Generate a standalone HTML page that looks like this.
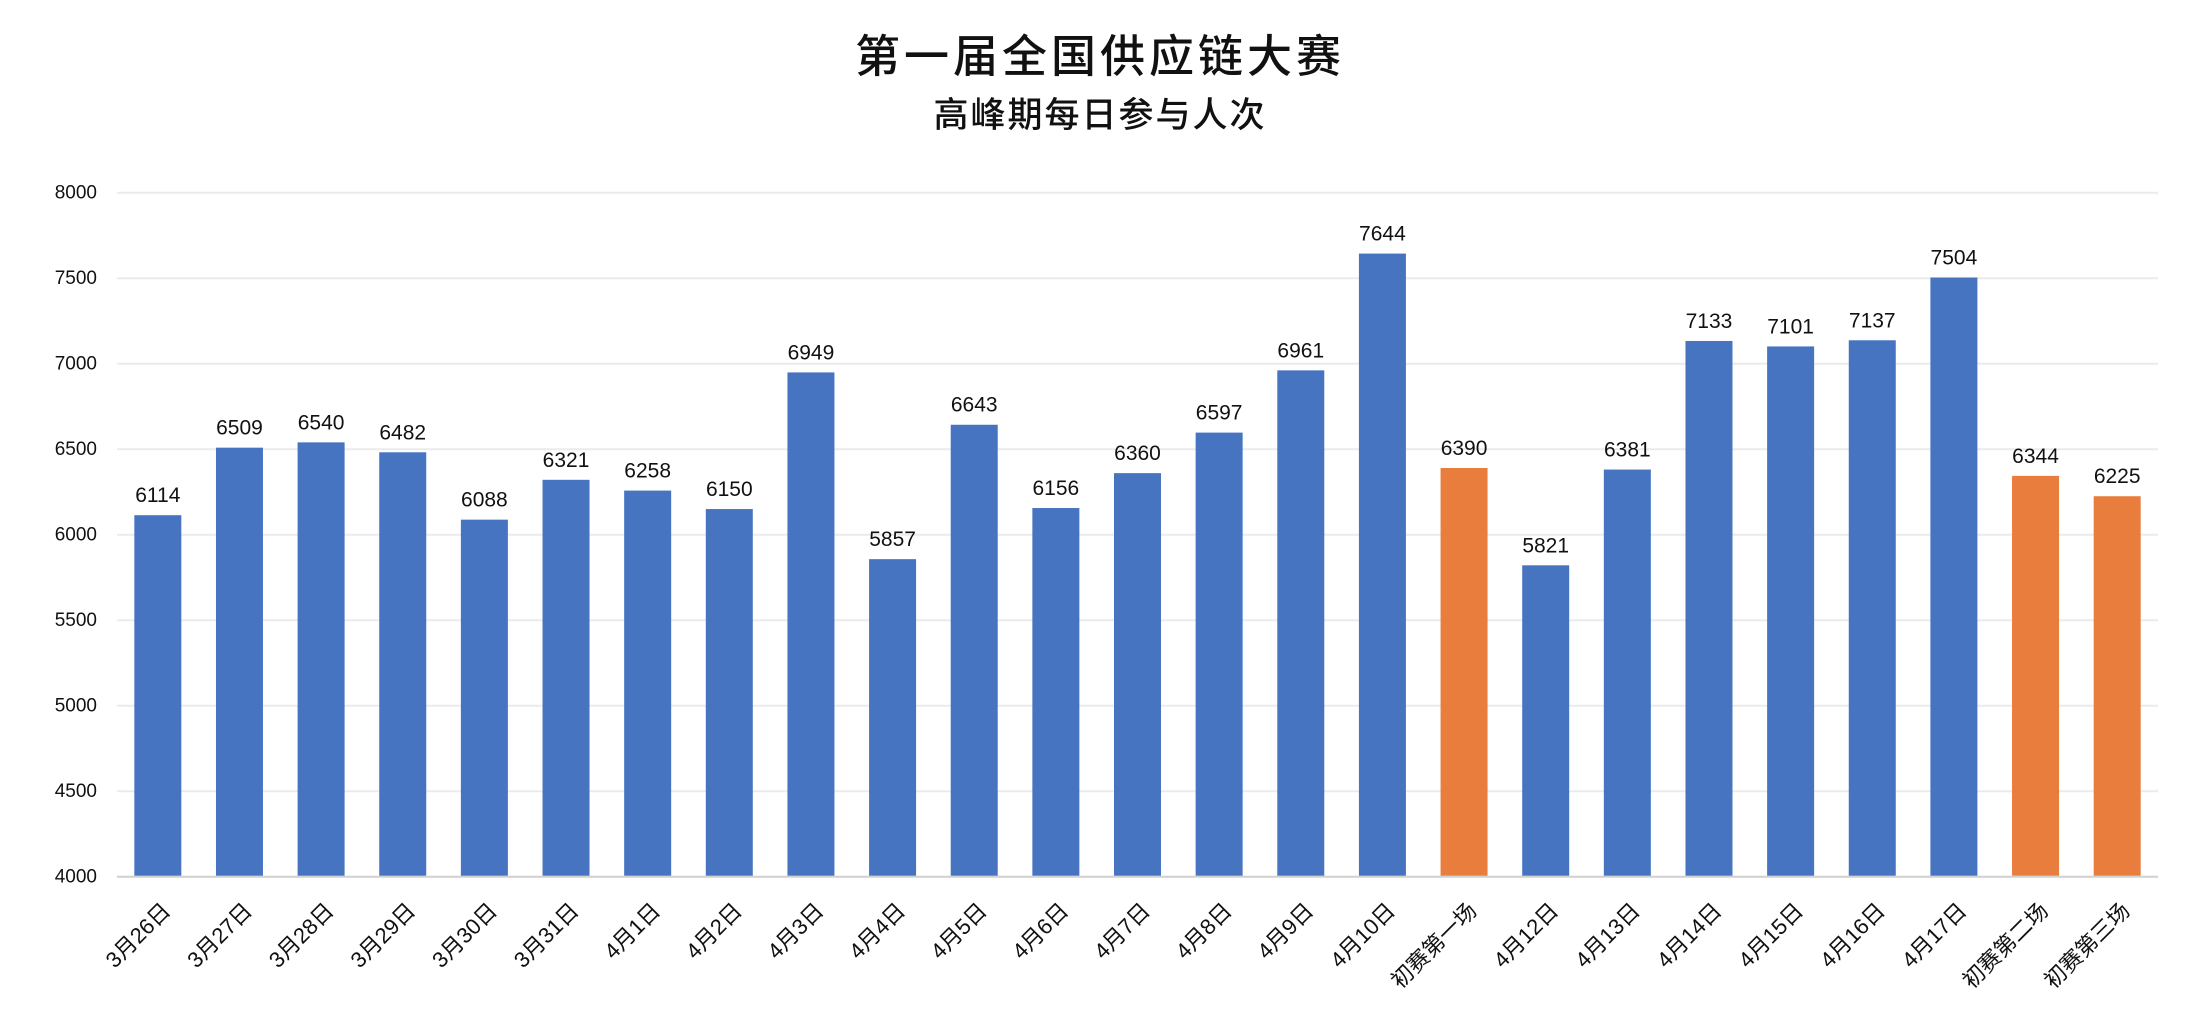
<!DOCTYPE html>
<html><head><meta charset="utf-8"><style>
html,body{margin:0;padding:0;background:#fff;}
svg{display:block;font-family:"Liberation Sans","Noto Sans CJK SC",sans-serif;}
</style></head><body>
<svg width="2200" height="1020" xmlns="http://www.w3.org/2000/svg">
<text x="1100" y="72" text-anchor="middle" font-size="45" font-weight="500" letter-spacing="4" fill="#111" font-family="'Noto Sans CJK SC',sans-serif">第一届全国供应链大赛</text>
<text x="1100" y="127" text-anchor="middle" font-size="35" font-weight="500" letter-spacing="2" fill="#111" font-family="'Noto Sans CJK SC',sans-serif">高峰期每日参与人次</text>
</svg>
<script>
const vals=[6114,6509,6540,6482,6088,6321,6258,6150,6949,5857,6643,6156,6360,6597,6961,7644,6390,5821,6381,7133,7101,7137,7504,6344,6225];
const labs=["3月26日","3月27日","3月28日","3月29日","3月30日","3月31日","4月1日","4月2日","4月3日","4月4日","4月5日","4月6日","4月7日","4月8日","4月9日","4月10日","初赛第一场","4月12日","4月13日","4月14日","4月15日","4月16日","4月17日","初赛第二场","初赛第三场"];
const orange=new Set([16,23,24]);
const svg=document.querySelector("svg");
const y0=876.7,y8=192.7;
const Y=v=>y0-(v-4000)*(y0-y8)/4000;
const x0=117,x1=2158,pitch=(x1-x0)/25;
let h="";
for(let v=4000;v<=8000;v+=500){
 const y=Y(v);
 h+=`<line x1="${x0}" x2="${x1}" y1="${y}" y2="${y}" stroke="${v==4000?'#d0d0d0':'#ebebeb'}" stroke-width="2"/>`;
 h+=`<text x="97" y="${y+6}" text-anchor="end" font-size="19" fill="#111">${v}</text>`;
}
vals.forEach((v,i)=>{
 const cx=x0+pitch*(i+0.5);
 const w=47;
 const y=Y(v);
 h+=`<rect x="${cx-w/2}" y="${y}" width="${w}" height="${y0-1-y}" fill="${orange.has(i)?'#E97D3D':'#4674C1'}"/>`;
 h+=`<text x="${cx}" y="${y-13}" text-anchor="middle" font-size="21" fill="#111">${v}</text>`;
 h+=`<text transform="translate(${cx+14},912) rotate(-45)" text-anchor="end" font-size="22" fill="#111">${labs[i]}</text>`;
});
svg.insertAdjacentHTML("beforeend",h);
</script>
</body></html>
